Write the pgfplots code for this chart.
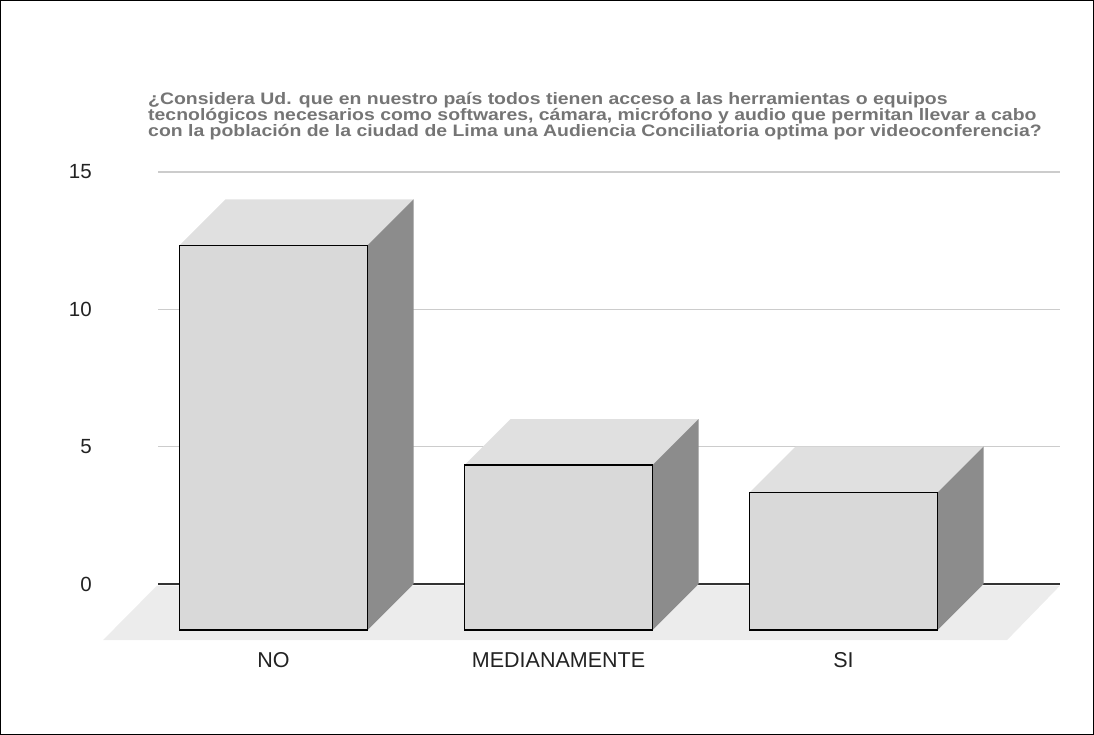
\documentclass[border=0pt]{standalone}
\usepackage{pgfplots}
\pgfplotsset{compat=1.18}
\usepackage{fontspec}
\setmainfont{Liberation Sans}
\newfontfamily\titlefont[FakeStretch=1.17]{Liberation Sans}
\definecolor{titlegray}{HTML}{757575}
\definecolor{gridgray}{HTML}{CCCCCC}
\definecolor{frontc}{HTML}{D9D9D9}
\definecolor{topc}{HTML}{E0E0E0}
\definecolor{sidec}{HTML}{8C8C8C}
\definecolor{floorc}{HTML}{ECECEC}
\definecolor{labc}{HTML}{222222}
\begin{document}
\begin{tikzpicture}
\useasboundingbox (0,0) rectangle (1094pt,735pt);
\draw[black,line width=1pt] (0.5pt,0.5pt) rectangle (1093.5pt,734.5pt);
\tikzset{ttl/.style={anchor=base west,inner sep=0pt,text=titlegray,font=\titlefont\fontsize{16.6}{16}\selectfont\bfseries}}
\node[ttl] at (148pt,630pt) {¿Considera Ud. que en nuestro país todos tienen acceso a las herramientas o equipos};
\node[ttl] at (148pt,614pt) {tecnológicos necesarios como softwares, cámara, micrófono y audio que permitan llevar a cabo};
\node[ttl] at (148pt,598pt) {con la población de la ciudad de Lima una Audiencia Conciliatoria optima por videoconferencia?};
\begin{axis}[
  at={(158pt,151pt)}, anchor=south west,
  scale only axis, width=902pt, height=412pt,
  xmin=-0.4053, xmax=2.7596, ymin=0, ymax=15,
  clip=false,
  axis line style={draw=none},
  major tick length=0pt,
  ytick={5,10,15}, extra y ticks={0}, extra y tick style={grid=none},
  ymajorgrids, grid style={gridgray,line width=1.3pt},
  xtick={0,1,2}, xticklabels={NO,MEDIANAMENTE,SI},
  /pgf/number format/assume math mode=true,
  yticklabel style={font=\fontsize{20.5}{20}\selectfont, text=labc,anchor=east,inner sep=0pt,xshift=-66pt},
  xticklabel style={font=\fontsize{21.5}{20}\selectfont, text=labc,anchor=base,inner sep=0pt,yshift=-84pt},
]
% floor
\addplot[fill=floorc,draw=none] coordinates {(-0.409,-0.06) (2.7596,-0.06) (2.574,-2.04) (-0.598,-2.04)} --cycle;
% zero line
\addplot[draw=black!80,line width=1.5pt] coordinates {(-0.4053,0) (2.7596,0)};
% NO = 14
\addplot[fill=topc,draw=none] coordinates {(-0.3298,12.325) (0.3298,12.325) (0.4912,14) (-0.1684,14)} --cycle;
\addplot[fill=sidec,draw=none] coordinates {(0.3298,12.325) (0.4912,14) (0.4912,0) (0.3298,-1.675)} --cycle;
\addplot[fill=frontc,draw=black,line width=1.6pt] coordinates {(-0.3298,-1.675) (0.3298,-1.675) (0.3298,12.325) (-0.3298,12.325)} --cycle;
% MEDIANAMENTE = 6
\addplot[fill=topc,draw=none] coordinates {(0.6702,4.325) (1.3298,4.325) (1.4912,6) (0.8316,6)} --cycle;
\addplot[fill=sidec,draw=none] coordinates {(1.3298,4.325) (1.4912,6) (1.4912,0) (1.3298,-1.675)} --cycle;
\addplot[fill=frontc,draw=black,line width=1.6pt] coordinates {(0.6702,-1.675) (1.3298,-1.675) (1.3298,4.325) (0.6702,4.325)} --cycle;
% SI = 5
\addplot[fill=topc,draw=none] coordinates {(1.6702,3.325) (2.3298,3.325) (2.4912,5) (1.8316,5)} --cycle;
\addplot[fill=sidec,draw=none] coordinates {(2.3298,3.325) (2.4912,5) (2.4912,0) (2.3298,-1.675)} --cycle;
\addplot[fill=frontc,draw=black,line width=1.6pt] coordinates {(1.6702,-1.675) (2.3298,-1.675) (2.3298,3.325) (1.6702,3.325)} --cycle;
\end{axis}
\end{tikzpicture}
\end{document}
